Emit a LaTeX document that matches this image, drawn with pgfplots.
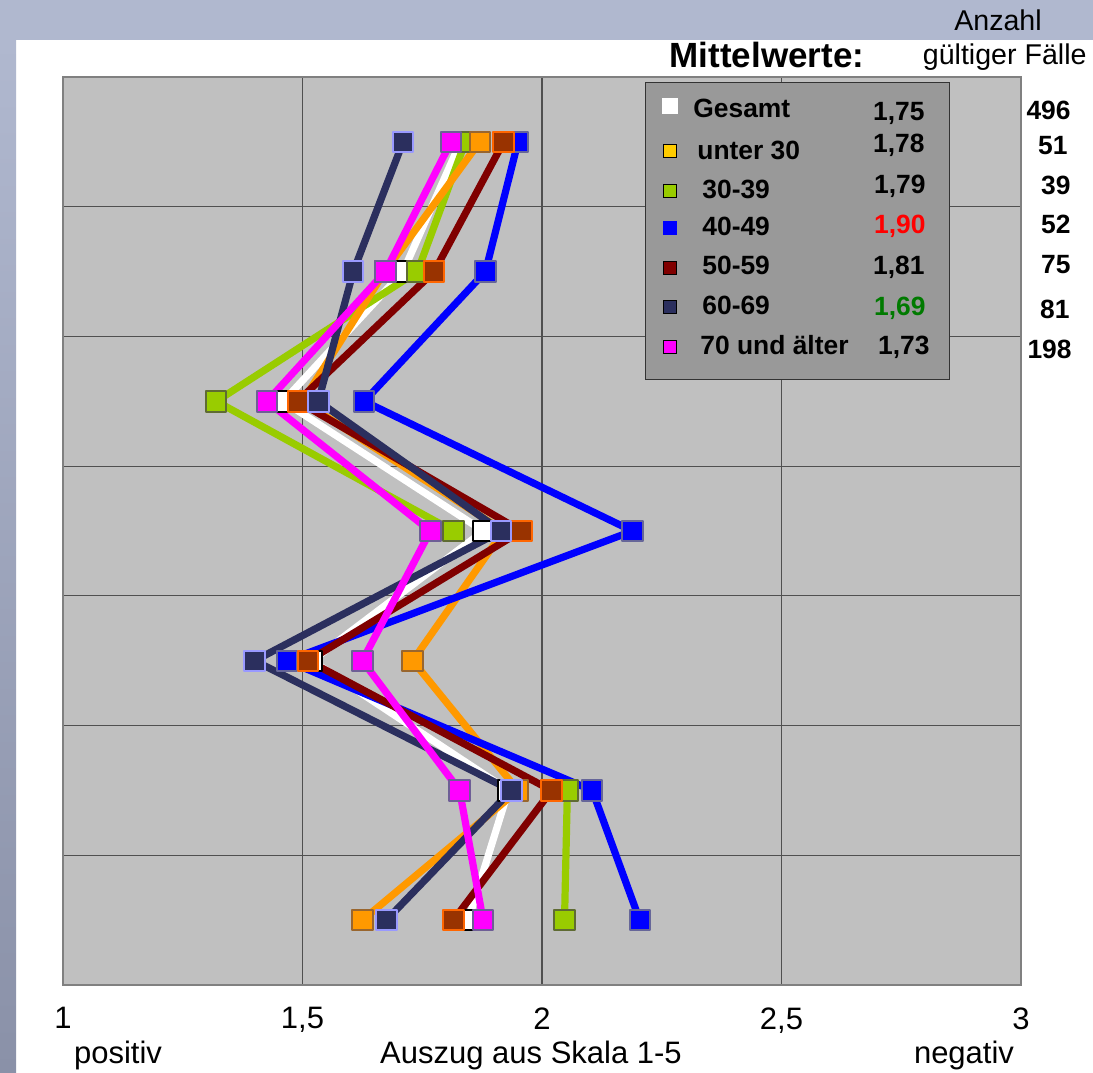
\documentclass[border=0pt]{standalone}
\usepackage{pgfplots}
\pgfplotsset{compat=1.18}
\usepackage{fontspec}
\setmainfont{Liberation Sans}

\definecolor{bandtop}{HTML}{B0B8CF}
\definecolor{bandbot}{HTML}{8A91A8}
\definecolor{plotbg}{HTML}{C0C0C0}
\definecolor{gridc}{HTML}{505050}
\definecolor{legbg}{HTML}{999999}
\definecolor{cOrange}{HTML}{FF9900}
\definecolor{cOrangeB}{HTML}{99662E}
\definecolor{cGreen}{HTML}{99CC00}
\definecolor{cGreenB}{HTML}{5F6B33}
\definecolor{cBlue}{HTML}{0000FF}
\definecolor{cBlueB}{HTML}{666699}
\definecolor{cRed}{HTML}{800000}
\definecolor{cRedM}{HTML}{993300}
\definecolor{cRedB}{HTML}{FF6600}
\definecolor{cNavy}{HTML}{2B2F5E}
\definecolor{cNavyB}{HTML}{9999FF}
\definecolor{cPink}{HTML}{FF00FF}
\definecolor{cPinkB}{HTML}{6E5E96}
\definecolor{cOkGreen}{HTML}{007A00}

\pgfplotsset{
  ser/.style n args={3}{draw=#1, line width=3.6pt, line join=round,
    mark=square*, mark size=5.1pt,
    mark options={fill=#2, draw=#3, line width=1pt, solid}},
}

\begin{document}
\begin{tikzpicture}
\path[use as bounding box] (0,0) rectangle (546.5pt,536pt);
% Hintergrund in Pixelkoordinaten (1px = 0.5pt, y nach unten)
\begin{scope}[x=0.5pt,y=-0.5pt,yshift=536pt]
  \fill[white] (0,0) rectangle (1093,1072);
  \fill[bandtop] (0,0) rectangle (1093,40);
  \shade[top color=bandtop, bottom color=bandbot] (0,40) rectangle (16,1072);
\end{scope}

\begin{axis}[
  at={(31.5pt,43.5pt)}, anchor=south west,
  scale only axis, width=479pt, height=454pt,
  xmin=1, xmax=3, ymin=0.5, ymax=7.5, y dir=reverse,
  axis background/.style={fill=plotbg},
  axis line style={draw=gray, line width=1pt},
  xtick={1,1.5,2,2.5,3},
  ytick={1.5,2.5,3.5,4.5,5.5,6.5}, yticklabels={},
  xmajorgrids, ymajorgrids,
  grid style={draw=gridc, line width=0.6pt},
  major tick length=0pt,
  unbounded coords=jump,
  /pgf/number format/use comma,
  /pgf/number format/assume math mode=true,
  xticklabel style={font=\fontsize{15.5}{18}\selectfont, anchor=north,
    inner sep=0pt, yshift=-11pt},
  clip=false,
]
% Gesamt
\addplot[ser={white}{white}{black}] coordinates {
  (1.83,1) (1.71,2) (1.46,3) (1.878,4) (1.52,5) (1.93,6) (1.846,7)};
% 30-39 (Zeile 5 ohne Wert)
\addplot[ser={cGreen}{cGreen}{cGreenB}] coordinates {
  (1.84,1) (1.74,2) (1.32,3) (1.815,4) (nan,5) (2.053,6) (2.047,7)};
% unter 30
\addplot[ser={cOrange}{cOrange}{cOrangeB}] coordinates {
  (1.87,1) (1.672,2) (1.50,3) (1.92,4) (1.73,5) (1.95,6) (1.625,7)};
% 40-49
\addplot[ser={cBlue}{cBlue}{cBlueB}] coordinates {
  (1.95,1) (1.882,2) (1.629,3) (2.189,4) (1.468,5) (2.105,6) (2.204,7)};
% 50-59
\addplot[ser={cRed}{cRedM}{cRedB}] coordinates {
  (1.92,1) (1.775,2) (1.49,3) (1.957,4) (1.512,5) (2.02,6) (1.815,7)};
% 60-69
\addplot[ser={cNavy}{cNavy}{cNavyB}] coordinates {
  (1.71,1) (1.606,2) (1.533,3) (1.915,4) (1.40,5) (1.936,6) (1.675,7)};
% 70 und aelter
\addplot[ser={cPink}{cPink}{cPinkB}] coordinates {
  (1.81,1) (1.673,2) (1.426,3) (1.767,4) (1.625,5) (1.828,6) (1.877,7)};
\end{axis}

\begin{scope}[x=0.5pt,y=-0.5pt,yshift=536pt]
  % Legende
  \draw[fill=legbg, draw=black!80, line width=0.5pt] (645,83) rectangle (949,380);
  \fill[white] (662,98) rectangle (678,114);
  \foreach \yy/\cc in {151/{rgb,255:red,255;green,204;blue,0}, 191/cGreen, 268/cRed, 307/cNavy, 347/cPink}
    \filldraw[fill=\cc, draw=black, line width=0.6pt] (663.5,\yy-6.5) rectangle (676.5,\yy+6.5);
  \fill[cBlue] (663,221) rectangle (677,235);
  \begin{scope}[every node/.style={font=\bfseries\fontsize{13.2}{15}\selectfont, inner sep=0pt}]
    \node[anchor=base west] at (693,118) {Gesamt};
    \node[anchor=base west] at (697,160) {unter 30};
    \node[anchor=base west] at (702,199) {30-39};
    \node[anchor=base west] at (702,236) {40-49};
    \node[anchor=base west] at (702,275) {50-59};
    \node[anchor=base west] at (702,315) {60-69};
    \node[anchor=base west] at (700,355) {70 und älter};
    \node[anchor=base east] at (925,121) {1,75};
    \node[anchor=base east] at (925,153) {1,78};
    \node[anchor=base east] at (926,194) {1,79};
    \node[anchor=base east, text=red] at (926,234) {1,90};
    \node[anchor=base east] at (925,275) {1,81};
    \node[anchor=base east, text=cOkGreen] at (926,316) {1,69};
    \node[anchor=base east] at (930,355) {1,73};
    \node[anchor=base east] at (1071,120) {496};
    \node[anchor=base east] at (1068,155) {51};
    \node[anchor=base east] at (1071,195) {39};
    \node[anchor=base east] at (1071,234) {52};
    \node[anchor=base east] at (1071,274) {75};
    \node[anchor=base east] at (1070,319) {81};
    \node[anchor=base east] at (1072,359) {198};
  \end{scope}
  % Kopf
  \node[anchor=base, inner sep=0pt, font=\bfseries\fontsize{17.5}{20}\selectfont] at (767,68) {Mittelwerte:};
  \node[anchor=base, inner sep=0pt, font=\fontsize{14.3}{16}\selectfont] at (998,31) {Anzahl};
  \node[anchor=base east, inner sep=0pt, font=\fontsize{14.3}{16}\selectfont] at (1087,65) {gültiger Fälle};
  % Achsentexte
  \begin{scope}[every node/.style={font=\fontsize{15.5}{18}\selectfont, inner sep=0pt, anchor=base}]
    \node at (118,1063) {positiv};
    \node at (531,1063) {Auszug aus Skala 1-5};
    \node at (964,1063) {negativ};
  \end{scope}
\end{scope}
\end{tikzpicture}
\end{document}
